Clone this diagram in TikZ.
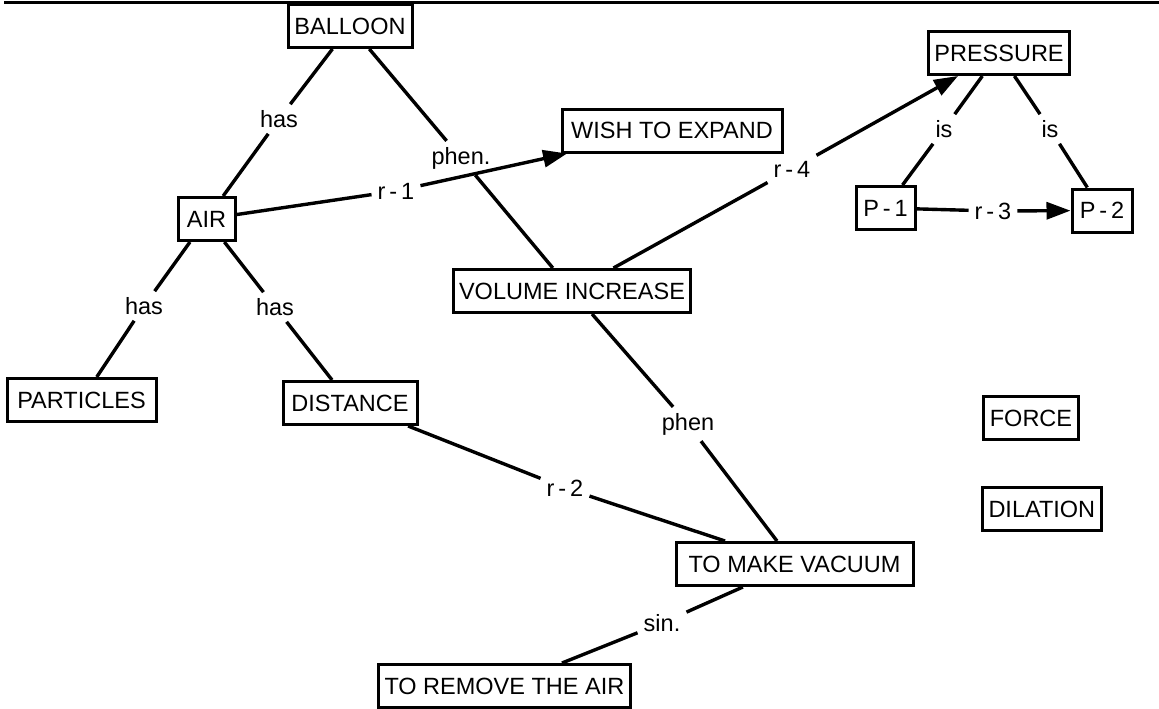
\documentclass[tikz,border=0pt]{standalone}
\usepackage{fontspec}
\setmainfont{Liberation Sans}
\usetikzlibrary{arrows.meta}
\begin{document}
\begin{tikzpicture}[x=1pt,y=-1pt,
  concept/.style={draw,line width=3pt,inner xsep=6pt,inner ysep=0pt,
    minimum height=43pt,font=\fontsize{23.5}{23.5}\selectfont},
  linkword/.style={inner sep=6pt,font=\fontsize{23.5}{23.5}\selectfont},
  link/.style={line width=3.4pt},
  arrowlink/.style={line width=3.4pt,-{Triangle[length=24pt,width=17pt]}}]
\useasboundingbox (0,0) rectangle (1159,709);

% rule along the top edge
\coordinate (ruleL) at (4,2.5);
\coordinate (ruleR) at (1159,2.5);
\draw[line width=3.5pt] (ruleL) -- (ruleR);

% concepts
\node[concept,minimum width=124pt] (balloon)   at (350,26)    {BALLOON};
\node[concept,minimum width=220pt] (wish)      at (672,130.5) {WISH TO EXPAND};
\node[concept,minimum width=138pt] (pressure)  at (999,53)    {PRESSURE};
\node[concept,minimum width=57pt]  (air)       at (206.5,219) {AIR};
\node[concept,minimum width=59pt]  (p1)        at (885.5,208) {P\,-\,1};
\node[concept,minimum width=60pt]  (p2)        at (1102,210.5) {P\,-\,2};
\node[concept,minimum width=228pt] (volume)    at (572,291)   {VOLUME INCREASE};
\node[concept,minimum width=149pt] (particles) at (81.5,400)  {PARTICLES};
\node[concept,minimum width=134pt] (distance)  at (350,403)   {DISTANCE};
\node[concept,minimum width=89pt]  (force)     at (1031,418)  {FORCE};
\node[concept,anchor=west]         (dilation)  at (981,509)   {DILATION};
\node[concept,minimum width=237pt] (vacuum)    at (794.5,564) {TO MAKE VACUUM};
\node[concept,anchor=west]         (remove)    at (377,686)   {TO REMOVE THE AIR};

% linking words
\node[linkword] (l1)  at (279,119)  {has};
\node[linkword] (l2)  at (461,158)  {phen.};
\node[linkword] (l3)  at (396,191)  {r\,-\,1};
\node[linkword] (l4)  at (792,169)  {r\,-\,4};
\node[linkword] (l5)  at (944,129)  {is};
\node[linkword] (l6)  at (1050,129) {is};
\node[linkword] (l7)  at (993,211)  {r\,-\,3};
\node[linkword] (l8)  at (144,306)  {has};
\node[linkword] (l9)  at (275,307)  {has};
\node[linkword] (l10) at (688,424)  {phen};
\node[linkword] (l11) at (565,488)  {r\,-\,2};
\node[linkword] (l12) at (662,623)  {sin.};

% links
\draw[link] (balloon) -- (l1);  \draw[link] (l1) -- (air);
\draw[link] (balloon) -- (l2);  \draw[link] (l2) -- (volume);
\draw[link] (air) -- (l3);      \draw[arrowlink] (l3) -- (wish);
\draw[link] (volume) -- (l4);   \draw[arrowlink] (l4) -- (pressure);
\draw[link] (pressure) -- (l5); \draw[link] (l5) -- (p1);
\draw[link] (pressure) -- (l6); \draw[link] (l6) -- (p2);
\draw[link] (p1) -- (l7);       \draw[arrowlink] (l7) -- (p2);
\draw[link] (air) -- (l8);      \draw[link] (l8) -- (particles);
\draw[link] (air) -- (l9);      \draw[link] (l9) -- (distance);
\draw[link] (volume) -- (l10);  \draw[link] (l10) -- (vacuum);
\draw[link] (distance) -- (l11);\draw[link] (l11) -- (vacuum);
\draw[link] (vacuum) -- (l12);  \draw[link] (l12) -- (remove);
\end{tikzpicture}
\end{document}
